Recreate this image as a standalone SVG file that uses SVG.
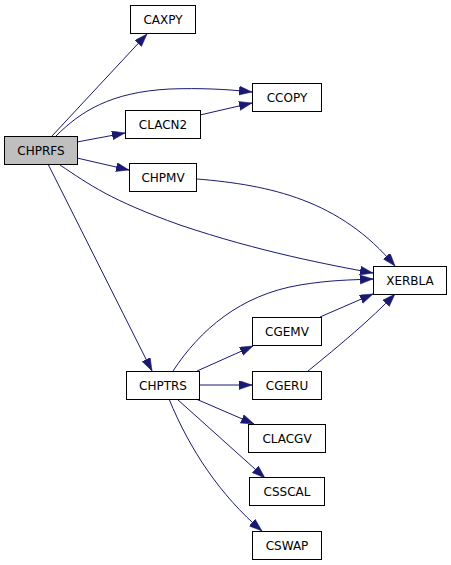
<svg xmlns="http://www.w3.org/2000/svg" width="451" height="565" viewBox="0 0 451 565">
<style>
.n rect{fill:#ffffff;stroke:#000000;stroke-width:1}
.n.root rect{fill:#bfbfbf;stroke:#000000}
.n text{font-family:"DejaVu Sans","Liberation Sans",sans-serif;font-size:12px;fill:#000000;text-anchor:middle}
.e path{fill:none;stroke:#191970;stroke-width:1;marker-end:url(#ah)}
</style>
<defs>
<marker id="ah" markerUnits="userSpaceOnUse" markerWidth="14" markerHeight="10" refX="13" refY="4.5" orient="auto">
<path d="M0,0 L13,4.5 L0,9 z" fill="#191970" stroke="#191970" stroke-width="0.5"/>
</marker>
</defs>
<rect width="451" height="565" fill="#ffffff"/>
<g id="edges" class="e">
<path d="M52,136 L147,34"/>
<path d="M56,136 C80,112 110,92 170,89 C200,88 225,89 252,92"/>
<path d="M77,142 L125,133"/>
<path d="M200,115 L252,103"/>
<path d="M77,158 L129,170"/>
<path d="M197,179 C270,185 340,200 395,266"/>
<path d="M60,165 C90,185 110,200 180,225 C260,252 330,265 373,273"/>
<path d="M48,164 L152,371"/>
<path d="M173,371 C200,330 240,295 300,285 C330,280 350,280 373,279"/>
<path d="M197,371 L253,346"/>
<path d="M199,385 L252,385"/>
<path d="M196,399 L254,424"/>
<path d="M177,399 L265,478"/>
<path d="M169,399 C190,450 220,495 262,531"/>
<path d="M320,317 L373,294"/>
<path d="M308,371 C340,345 370,320 395,294"/>
</g>
<g id="CHPRFS" class="n root"><rect x="4.5" y="136.5" width="73" height="28"/><text x="41" y="154.5">CHPRFS</text></g>
<g id="CAXPY" class="n"><rect x="130.5" y="5.5" width="65" height="28"/><text x="163" y="23.5">CAXPY</text></g>
<g id="CCOPY" class="n"><rect x="252.5" y="83.5" width="69" height="28"/><text x="287" y="101.5">CCOPY</text></g>
<g id="CLACN2" class="n"><rect x="125.5" y="110.5" width="75" height="28"/><text x="163" y="128.5">CLACN2</text></g>
<g id="CHPMV" class="n"><rect x="129.5" y="163.5" width="67" height="28"/><text x="163" y="181.5">CHPMV</text></g>
<g id="XERBLA" class="n"><rect x="373.5" y="266.5" width="73" height="28"/><text x="410" y="284.5">XERBLA</text></g>
<g id="CHPTRS" class="n"><rect x="126.5" y="371.5" width="73" height="28"/><text x="163" y="389.5">CHPTRS</text></g>
<g id="CGEMV" class="n"><rect x="252.5" y="317.5" width="69" height="28"/><text x="287" y="335.5">CGEMV</text></g>
<g id="CGERU" class="n"><rect x="252.5" y="371.5" width="69" height="28"/><text x="287" y="389.5">CGERU</text></g>
<g id="CLACGV" class="n"><rect x="248.5" y="424.5" width="77" height="28"/><text x="287" y="442.5">CLACGV</text></g>
<g id="CSSCAL" class="n"><rect x="249.5" y="477.5" width="75" height="28"/><text x="287" y="495.5">CSSCAL</text></g>
<g id="CSWAP" class="n"><rect x="252.5" y="531.5" width="69" height="28"/><text x="287" y="549.5">CSWAP</text></g>
</svg>
